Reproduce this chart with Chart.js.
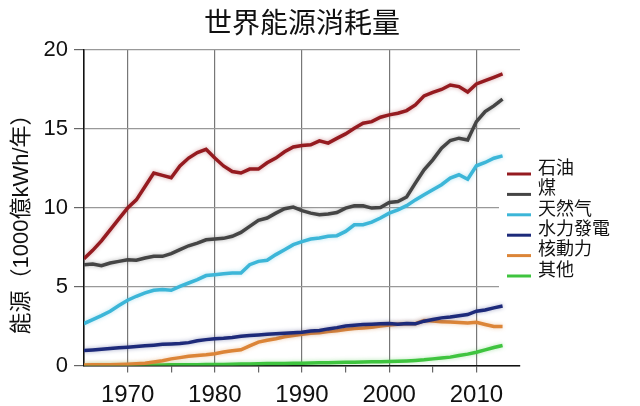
<!DOCTYPE html>
<html>
<head>
<meta charset="utf-8">
<script src="https://cdn.jsdelivr.net/npm/chart.js@4/dist/chart.umd.min.js"></script>
<style>
  html, body { margin: 0; padding: 0; background: #fff; }
  #wrap { width: 640px; height: 406px; position: relative; }
</style>
</head>
<body>
<div id="wrap"><canvas id="energyChart"></canvas></div>
<script>
// Données (1000億kWh/年)
const years = [1965,1966,1967,1968,1969,1970,1971,1972,1973,1974,1975,1976,1977,1978,1979,
  1980,1981,1982,1983,1984,1985,1986,1987,1988,1989,1990,1991,1992,1993,1994,1995,1996,1997,
  1998,1999,2000,2001,2002,2003,2004,2005,2006,2007,2008,2009,2010,2011,2012,2013];

const oil = [6.77,7.3,7.9,8.6,9.3,9.98,10.5,11.35,12.2,12.05,11.9,12.65,13.15,13.5,13.7,
  13.15,12.65,12.3,12.2,12.45,12.45,12.85,13.15,13.55,13.85,13.95,13.99,14.24,14.1,14.4,14.68,15.04,15.36,
  15.46,15.74,15.89,15.99,16.16,16.52,17.09,17.32,17.5,17.78,17.68,17.34,17.85,18.06,18.27,18.48];

const coal = [6.39,6.43,6.33,6.5,6.6,6.7,6.67,6.81,6.92,6.92,7.09,7.34,7.59,7.76,7.97,
  8.02,8.06,8.19,8.44,8.82,9.2,9.35,9.66,9.94,10.04,9.82,9.66,9.56,9.6,9.7,9.98,10.13,10.13,
  9.98,10.02,10.34,10.4,10.68,11.56,12.4,13.04,13.78,14.26,14.41,14.3,15.46,16.1,16.46,16.88];

const gas = [2.66,2.91,3.16,3.44,3.8,4.14,4.39,4.6,4.77,4.81,4.77,5.02,5.23,5.44,5.7,
  5.76,5.82,5.86,5.86,6.39,6.6,6.67,7.03,7.34,7.66,7.85,8.02,8.08,8.19,8.23,8.5,8.92,8.92,
  9.09,9.35,9.66,9.87,10.13,10.5,10.82,11.14,11.46,11.88,12.09,11.81,12.66,12.87,13.14,13.29];

const hydro = [0.95,0.99,1.03,1.08,1.12,1.16,1.2,1.25,1.29,1.34,1.37,1.4,1.45,1.57,1.64,
  1.69,1.72,1.77,1.85,1.9,1.94,1.98,2.01,2.05,2.08,2.11,2.18,2.22,2.32,2.4,2.5,2.55,2.6,
  2.62,2.64,2.66,2.62,2.66,2.64,2.81,2.92,3.02,3.08,3.16,3.23,3.44,3.52,3.65,3.77];

const nuclear = [0.03,0.04,0.05,0.05,0.06,0.08,0.11,0.15,0.22,0.3,0.42,0.5,0.58,0.64,0.68,
  0.75,0.86,0.93,1.0,1.25,1.48,1.6,1.7,1.82,1.9,1.98,2.05,2.08,2.15,2.2,2.28,2.35,2.38,
  2.42,2.5,2.57,2.62,2.65,2.65,2.85,2.82,2.78,2.75,2.72,2.7,2.74,2.6,2.47,2.47];

const other = [0.0,0.0,0.01,0.01,0.01,0.02,0.02,0.02,0.03,0.03,0.04,0.04,0.05,0.05,0.06,
  0.06,0.07,0.08,0.09,0.1,0.11,0.12,0.12,0.13,0.14,0.15,0.16,0.17,0.18,0.19,0.2,0.21,0.22,
  0.23,0.24,0.25,0.27,0.29,0.32,0.36,0.42,0.47,0.53,0.63,0.72,0.84,0.99,1.14,1.27];

const seriesNames = ['石油', '煤', '天然气', '水力發電', '核動力', '其他'];
const seriesColors = ['#951b20', '#454545', '#3cb6d8', '#1d2a7a', '#dc8538', '#3fc43f'];
const yTicks = [0, 5, 10, 15, 20];
const decadeTicks = [1970, 1980, 1990, 2000, 2010];

const chartTitle = '世界能源消耗量';
const yTitle = '能源（1000億kWh/年）';
const FONT = '"Liberation Sans", "Noto Sans CJK TC", sans-serif';
const CJK = '"Noto Sans CJK TC", "Liberation Sans", sans-serif';

function toPoints(arr) {
  return arr.map((v, i) => ({ x: years[i], y: v }));
}

const allSeries = [oil, coal, gas, hydro, nuclear, other];
const datasets = allSeries.map((arr, i) => ({
  label: seriesNames[i],
  data: toPoints(arr),
  borderColor: seriesColors[i],
  backgroundColor: 'transparent',
  borderWidth: 3.5,
  pointRadius: 0,
  tension: 0,
  fill: false
}));

// Titres, légende et halo des lignes dessinés à la main
const decorPlugin = {
  id: 'decor',
  beforeDatasetsDraw(chart) {
    const ctx = chart.ctx;
    // fond blanc de la légende qui coupe la grille
    ctx.save();
    ctx.fillStyle = '#fff';
    ctx.fillRect(499, 162, 141, 134);
    ctx.restore();
  },
  beforeDatasetDraw(chart, args) {
    const ctx = chart.ctx;
    ctx.save();
    ctx.shadowColor = seriesColors[args.index] + '66';
    ctx.shadowBlur = 4;
  },
  afterDatasetDraw(chart) {
    chart.ctx.restore();
  },
  afterDraw(chart) {
    const ctx = chart.ctx;
    const area = chart.chartArea;
    ctx.save();
    // titre
    ctx.fillStyle = '#111';
    ctx.font = '28px ' + CJK;
    ctx.textAlign = 'center';
    ctx.textBaseline = 'middle';
    ctx.fillText(chartTitle, (area.left + area.right) / 2, 22);

    // titre de l'axe y
    ctx.save();
    ctx.translate(22, 219);
    ctx.rotate(-Math.PI / 2);
    ctx.font = '22px ' + FONT;
    ctx.fillText(yTitle, 0, 0);
    ctx.restore();

    // légende
    ctx.textAlign = 'left';
    ctx.font = '18px ' + CJK;
    seriesNames.forEach((name, i) => {
      const y = 174 + i * 20.4;
      ctx.strokeStyle = seriesColors[i];
      ctx.lineWidth = 3;
      ctx.beginPath();
      ctx.moveTo(507, y);
      ctx.lineTo(531, y);
      ctx.stroke();
      ctx.fillStyle = '#111';
      ctx.fillText(name, 538, y - 7);
    });
    ctx.restore();
  }
};

new Chart(document.getElementById('energyChart').getContext('2d'), {
  type: 'line',
  data: { datasets },
  options: {
    responsive: true,
    maintainAspectRatio: false,
    animation: false,
    layout: { padding: { top: 50, right: 120, left: 0, bottom: 0 } },
    plugins: {
      legend: { display: false },
      tooltip: { enabled: false }
    },
    scales: {
      x: {
        type: 'linear',
        min: 1965,
        max: 2015,
        afterBuildTicks: (scale) => {
          const t = [];
          for (let v = 1970; v <= 2010; v += 5) t.push({ value: v });
          scale.ticks = t;
        },
        afterFit: (scale) => { scale.height = 40.5; },
        ticks: {
          color: '#111',
          font: { family: FONT, size: 24 },
          padding: 8,
          maxRotation: 0,
          autoSkip: false,
          callback: (v) => decadeTicks.includes(v) ? String(v) : ''
        },
        grid: {
          color: (ctx) => (ctx.tick && decadeTicks.includes(ctx.tick.value)) ? '#777' : 'transparent',
          tickColor: '#666',
          tickLength: 7,
          lineWidth: 1.2
        },
        border: { color: '#111', width: 1.6 }
      },
      y: {
        min: 0,
        max: 20,
        afterBuildTicks: (scale) => { scale.ticks = yTicks.map(v => ({ value: v })); },
        afterFit: (scale) => { scale.width = 84; },
        ticks: {
          color: '#111',
          font: { family: FONT, size: 22 },
          padding: 6
        },
        grid: {
          color: '#999',
          tickColor: '#666',
          tickLength: 10,
          lineWidth: 1.2
        },
        border: { color: '#111', width: 1.6 }
      }
    }
  },
  plugins: [decorPlugin]
});
</script>
</body>
</html>
